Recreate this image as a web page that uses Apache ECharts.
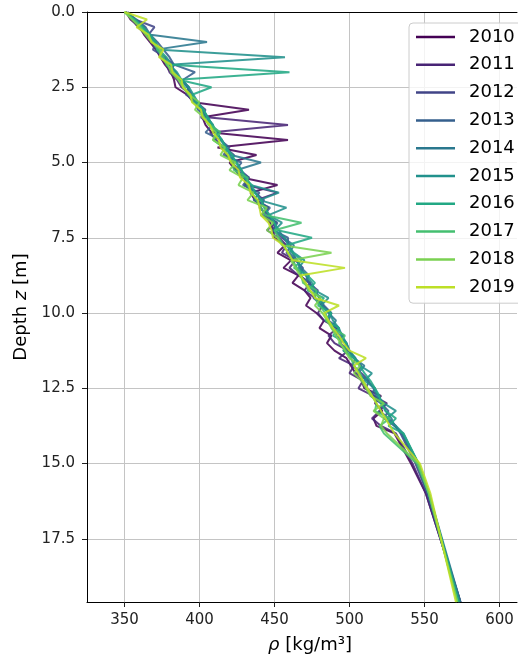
<!DOCTYPE html>
<html>
<head>
<meta charset="utf-8">
<script src="https://cdn.jsdelivr.net/npm/echarts@6/dist/echarts.min.js"></script>
<style>
  html, body { margin: 0; padding: 0; background: #fff; }
  #chart { width: 518px; height: 655px; }
</style>
</head>
<body>
<div id="chart"></div>
<script>
// Snow density profiles, one per year (depth in m, density in kg/m^3)
const depths = [0, 0.25, 0.5, 0.75, 1, 1.25, 1.5, 1.75, 2, 2.25, 2.5, 2.75, 3, 3.25, 3.5, 3.75, 4, 4.25, 4.5, 4.75,
  5, 5.25, 5.5, 5.75, 6, 6.25, 6.5, 6.75, 7, 7.25, 7.5, 7.75, 8, 8.25, 8.5, 8.75, 9, 9.25, 9.5, 9.75,
  10, 10.25, 10.5, 10.75, 11, 11.25, 11.5, 11.75, 12, 12.25, 12.5, 12.75, 13, 13.25, 13.5, 13.75, 14, 15, 16, 19.6];

const years = ['2010', '2011', '2012', '2013', '2014', '2015', '2016', '2017', '2018', '2019'];

const rho2010 = [351,354,360,363,367,371,374,377,381,383,384,392,396,433,402,404,408,459,412,438,420,424,428,452,434,437,441,444,447,449,450,457,452,461,456,466,462,470,474,471,478,483,480,488,485,490,498,501,504,508,510,521,517,522,516,518,530,541,551,574];
const rho2011 = [351,355,359,364,368,372,376,378,380,385,388,394,398,401,405,459,407,411,415,418,422,425,430,431,452,438,446,441,451,445,453,458,455,464,460,466,474,470,477,482,479,483,492,486,490,499,493,503,500,509,506,516,525,520,515,521,531,542,551,574];
const rho2012 = [352,357,370,366,371,369,377,383,381,388,393,391,398,404,401,408,413,410,417,423,421,427,433,430,437,443,440,446,451,449,455,461,458,464,469,467,473,479,476,482,487,485,491,496,494,499,504,502,508,513,511,517,522,520,526,531,534,544,552,573];
const rho2013 = [351,358,364,367,372,376,380,383,397,389,392,395,397,399,405,409,404,414,420,416,428,424,433,429,440,436,447,443,452,449,459,459,462,465,467,471,473,477,480,483,488,486,493,491,498,496,503,508,505,512,517,514,521,526,523,530,535,545,552,574];
const rho2014 = [351,357,363,366,405,371,376,380,384,387,392,394,398,403,405,407,411,415,418,421,441,425,430,433,437,441,444,446,449,453,456,463,460,465,468,473,470,476,480,482,486,491,488,494,498,500,503,510,506,512,516,518,522,524,528,530,535,546,553,574];
const rho2015 = [350,356,362,366,370,374,457,380,385,388,393,396,399,402,406,408,412,414,418,420,425,428,431,434,453,440,458,446,455,450,457,459,463,470,466,471,475,477,486,481,487,489,493,495,498,500,504,507,515,510,517,519,523,531,525,531,536,546,553,573];
const rho2016 = [350,357,362,367,371,373,378,381,460,386,408,395,398,403,405,409,411,415,417,422,424,428,430,435,437,441,443,447,450,452,475,458,462,468,463,472,477,472,483,479,488,484,493,489,498,496,503,507,510,514,517,520,521,524,531,526,536,546,553,573];
const rho2017 = [350,356,361,365,369,372,376,378,383,386,390,393,396,401,403,407,414,409,416,419,422,423,432,432,435,438,441,444,468,450,453,456,459,462,465,468,469,478,477,480,484,486,489,497,493,498,501,503,507,509,512,515,518,517,527,520,523,545,553,572];
const rho2018 = [350,355,360,364,368,374,374,379,381,386,389,393,400,397,403,406,411,409,417,414,424,420,429,426,436,432,445,441,449,445,452,455,488,461,464,467,470,473,481,477,482,485,488,491,494,497,500,507,503,508,511,514,523,516,523,521,525,546,553,572];
const rho2019 = [350,365,358,366,368,376,373,381,382,388,389,394,395,401,402,407,409,413,414,419,421,426,427,433,434,439,440,441,446,448,449,456,459,462,497,467,471,474,477,493,483,486,489,493,496,500,511,503,506,509,512,515,518,521,524,527,530,547,554,571];

const profiles = [rho2010, rho2011, rho2012, rho2013, rho2014, rho2015, rho2016, rho2017, rho2018, rho2019];

// viridis samples from 0.0 to 0.9
const colors = ['#440154', '#482475', '#414487', '#355f8d', '#2a788e', '#21918c', '#22a884', '#44bf70', '#7ad151', '#bddf26'];

const xTicks = [350, 400, 450, 500, 550, 600];
const yTicks = [0, 2.5, 5, 7.5, 10, 12.5, 15, 17.5];

const FONT = 'DejaVu Sans';

const series = years.map((y, k) => ({
  name: y,
  type: 'line',
  xAxisIndex: 0,
  yAxisIndex: 0,
  symbol: 'none',
  color: colors[k],
  lineStyle: { width: 2, color: colors[k], opacity: 0.88 },
  data: profiles[k].map((r, i) => [r, depths[i]]),
  z: 2 + k
}));

const chart = echarts.init(document.getElementById('chart'), null, { renderer: 'canvas' });

chart.setOption({
  animation: false,
  backgroundColor: '#fff',
  grid: { left: 87, right: 1, top: 12, bottom: 53, containLabel: false, outerBoundsMode: 'none' },
  legend: {
    left: 409,
    top: 23,
    orient: 'vertical',
    icon: 'rect',
    itemWidth: 39,
    itemHeight: 2.5,
    itemGap: 9.8,
    padding: [5, 20, 7, 7],
    borderColor: '#cccccc',
    borderWidth: 1,
    borderRadius: 4,
    backgroundColor: 'rgba(255,255,255,0.8)',
    textStyle: { fontFamily: FONT, fontSize: 18, color: '#000', lineHeight: 18, padding: [0, 0, 0, 9] },
    data: years
  },
  xAxis: [
    {
      type: 'value',
      position: 'bottom',
      min: 325,
      max: 611.7,
      name: '{i|ρ} [kg/m³]',
      nameLocation: 'middle',
      nameGap: 34,
      nameTextStyle: {
        fontFamily: FONT, fontSize: 18, color: '#000', padding: [0, 0, 0, 16],
        rich: { i: { fontFamily: FONT, fontSize: 18, fontStyle: 'italic', color: '#000' } }
      },
      axisLine: { show: true, onZero: false, lineStyle: { color: '#000', width: 1 } },
      axisTick: { show: true, length: 5, customValues: xTicks, lineStyle: { color: '#222' } },
      axisLabel: { customValues: xTicks, margin: 11, fontFamily: FONT, fontSize: 15, color: '#222' },
      splitLine: { show: true, lineStyle: { color: '#c4c4c4', width: 1 } }
    },
    {
      type: 'value',
      position: 'top',
      min: 325,
      max: 611.7,
      axisLine: { show: true, onZero: false, lineStyle: { color: '#000', width: 1 } },
      axisTick: { show: false },
      axisLabel: { show: false },
      splitLine: { show: false }
    }
  ],
  yAxis: {
    type: 'value',
    inverse: true,
    min: 0,
    max: 19.6,
    interval: 2.5,
    name: 'Depth {i|z} [m]',
    nameLocation: 'middle',
    nameRotate: 90,
    nameGap: 52,
    nameTextStyle: {
      fontFamily: FONT, fontSize: 18, color: '#000',
      rich: { i: { fontFamily: FONT, fontSize: 18, fontStyle: 'italic', color: '#000' } }
    },
    axisLine: { show: true, onZero: false, lineStyle: { color: '#000', width: 1 } },
    axisTick: { show: true, length: 5, customValues: yTicks, lineStyle: { color: '#222' } },
    axisLabel: {
      customValues: yTicks,
      margin: 12,
      fontFamily: FONT,
      fontSize: 15,
      color: '#222',
      formatter: v => v.toFixed(1)
    },
    splitLine: { show: true, lineStyle: { color: '#c4c4c4', width: 1 } }
  },
  series: series
});
</script>
</body>
</html>
